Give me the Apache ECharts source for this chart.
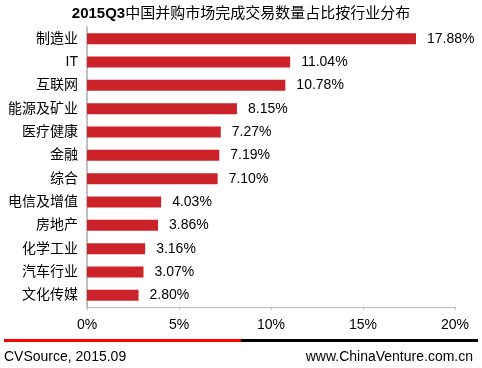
<!DOCTYPE html>
<html><head><meta charset="utf-8">
<script src="https://cdn.jsdelivr.net/npm/echarts@6/dist/echarts.min.js"></script>
<style>html,body{margin:0;padding:0;background:#fff}#c{width:482px;height:368px}</style>
</head><body><div id="c"></div>
<script>
const categories = ['制造业','IT','互联网','能源及矿业','医疗健康','金融','综合','电信及增值','房地产','化学工业','汽车行业','文化传媒'];
const values = [17.88,11.04,10.78,8.15,7.27,7.19,7.10,4.03,3.86,3.16,3.07,2.80];
const xTicks = [0,5,10,15,20];
const sourceText = 'CVSource, 2015.09';
const siteText = 'www.ChinaVenture.com.cn';

const font = 'Arial, "Liberation Sans", "Noto Sans CJK SC", sans-serif';
const chart = echarts.init(document.getElementById('c'));
chart.setOption({
  animation: false,
  textStyle: {fontFamily: font},
  title: {
    text: '{b|2015Q3}{n|中国并购市场完成交易数量占比按行业分布}',
    left: 'center', top: 1,
    textStyle: {rich: {
      b: {fontSize: 15, fontWeight: 'bold', color: '#000', fontFamily: font},
      n: {fontSize: 15, fontWeight: 'normal', color: '#000', fontFamily: font}
    }}
  },
  grid: {left: 87, right: 27, top: 27, bottom: 61, containLabel: false},
  xAxis: {
    type: 'value', min: xTicks[0], max: xTicks[xTicks.length-1], interval: 5,
    axisLine: {show: true, lineStyle: {color: '#bfbfbf'}},
    axisTick: {show: true, length: 3, inside: false, lineStyle: {color: '#bfbfbf'}},
    splitLine: {show: false},
    axisLabel: {formatter: v => v + '%', fontSize: 14, color: '#000', margin: 11, fontFamily: font}
  },
  yAxis: {
    type: 'category', data: categories, inverse: true,
    axisLine: {show: true, lineStyle: {color: '#bfbfbf', width: 2}},
    axisTick: {show: false},
    axisLabel: {fontSize: 14, color: '#000', margin: 9, fontFamily: font}
  },
  series: [{
    type: 'bar', data: values, barWidth: 11,
    itemStyle: {color: '#cc2229'},
    label: {show: true, position: 'right', distance: 11, formatter: p => p.value.toFixed(2) + '%', fontSize: 14, color: '#000', fontFamily: font}
  }],
  graphic: [
    {type: 'rect', shape: {x: 4, y: 339, width: 237, height: 3}, style: {fill: '#ff0000'}},
    {type: 'rect', shape: {x: 241, y: 339, width: 237, height: 3}, style: {fill: '#000000'}},
    {type: 'text', left: 4, top: 350, style: {text: sourceText, fontSize: 14, fill: '#000', fontFamily: font}},
    {type: 'text', right: 9, top: 350, style: {text: siteText, fontSize: 14, fill: '#000', fontFamily: font}}
  ]
});
</script></body></html>
